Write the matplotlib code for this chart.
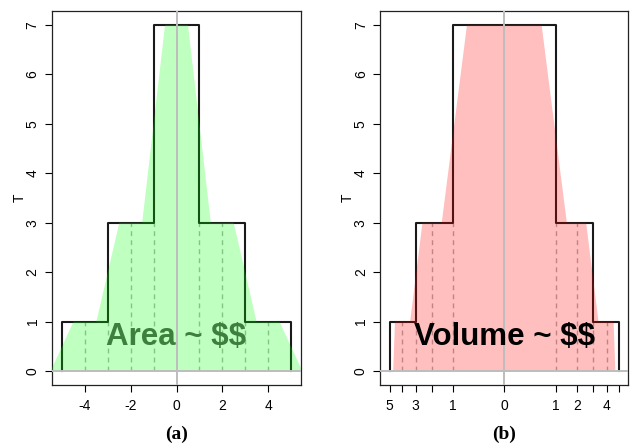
import numpy as np
import matplotlib
matplotlib.use("Agg")
import matplotlib.pyplot as plt

# ------------------------------------------------------------------ #
# data
# ------------------------------------------------------------------ #
band_T = [0, 1, 3, 7]                 # band boundaries on the T axis
step_halfwidth = [5, 3, 1]            # step outline half-width per band
area_bottom = [5.5, 3.5, 1.5]         # green trapezoid half-width at band bottom
area_top = [4.5, 2.5, 0.5]            # green trapezoid half-width at band top
vol_bottom = [4.7, 3.38, 1.49]        # pink trapezoid half-width at band bottom (x units)
vol_top = [4.55, 2.55, 0.53]          # pink trapezoid half-width at band top (x units)
dash_x = [-4, -3, -2, -1, 1, 2, 3, 4]  # dashed column borders
dash_h = [1, 1, 3, 3, 3, 3, 1, 1]

xticks_a = [-4, -2, 0, 2, 4]
xticks_b = [-5, -4, -3, -2, -1, 0, 1, 2, 3, 4, 5]
xlabels_b = ["5", "", "3", "", "1", "0", "1", "2", "", "4", ""]
yticks = [0, 1, 2, 3, 4, 5, 6, 7]

plt.rcParams["font.family"] = ["Liberation Sans", "DejaVu Sans"]
plt.rcParams["text.parse_math"] = False

W, H = 633, 443
fig = plt.figure(figsize=(W / 100, H / 100), dpi=100)


def sq(v):
    v = np.asarray(v, dtype=float)
    return np.sign(v) * np.sqrt(np.abs(v))


def step_outline():
    xs, ys = [], []
    for i, hw in enumerate(step_halfwidth):
        xs += [-hw, -hw]
        ys += [band_T[i], band_T[i + 1]]
    right_x, right_y = [], []
    for i, hw in enumerate(step_halfwidth):
        right_x += [hw, hw]
        right_y += [band_T[i], band_T[i + 1]]
    xs += right_x[::-1]
    ys += right_y[::-1]
    return np.array(xs, float), np.array(ys, float)


def shape_outline(bottom, top):
    xs, ys = [], []
    for i in range(len(bottom)):
        xs += [bottom[i], top[i]]
        ys += [band_T[i], band_T[i + 1]]
    xs = np.array(xs, float)
    ys = np.array(ys, float)
    return np.concatenate([-xs, xs[::-1]]), np.concatenate([ys, ys[::-1]])


def setup(ax, xlim):
    ax.set_xlim(*xlim)
    ax.set_ylim(-0.28, 7.28)
    ax.set_yticks(yticks)
    for lab in ax.get_yticklabels():
        lab.set_rotation(90)
        lab.set_va("center")
    ax.tick_params(axis="y", length=5, width=0.8, pad=4, labelsize=10)
    ax.tick_params(axis="x", length=5, width=0.8, pad=5, labelsize=10)
    ax.set_ylabel("T", fontsize=10, labelpad=-1)
    for s in ax.spines.values():
        s.set_linewidth(0.9)
        s.set_color("#222222")


def draw(ax, tf, bottom, top, fill_col, text, text_col):
    for x, h in zip(dash_x, dash_h):
        ax.plot([tf(x)] * 2, [0, h], color="#b0b0b0", lw=1.0,
                dashes=(3.5, 3), zorder=1)
    sx, sy = step_outline()
    ax.plot(tf(sx), sy, color="#1a1a1a", lw=1.5, zorder=2)
    px, py = shape_outline(bottom, top)
    ax.fill(tf(px), py, color=fill_col, alpha=0.25, lw=0, zorder=3)
    ax.axvline(0, color="#bdbdbd", lw=1.4, zorder=4)
    ax.axhline(0, color="#bdbdbd", lw=1.4, zorder=4)
    ax.text(0, 0.52, text, ha="center", va="baseline", fontsize=22.5,
            fontweight="bold", color=text_col, zorder=5)


# (a) area
ax1 = fig.add_axes([52 / W, 58 / H, 249 / W, 374 / H])
draw(ax1, lambda v: np.asarray(v, float), area_bottom, area_top,
     (0, 1, 0), "Area ~ $$", "#3d7f3d")
setup(ax1, (-5.44, 5.44))
ax1.set_xticks(xticks_a)
ax1.set_xticklabels([str(t) for t in xticks_a])

# (b) volume, sqrt-scaled x
ax2 = fig.add_axes([380.3 / W, 58 / H, 248 / W, 374 / H])
draw(ax2, sq, vol_bottom, vol_top, (1, 0, 0), "Volume ~ $$", "black")
setup(ax2, (-2.42, 2.42))
ax2.set_xticks(sq(xticks_b))
ax2.set_xticklabels(xlabels_b)

fig.text(176.5 / W, 1 - 434 / H, "(a)", ha="center", va="center",
         fontsize=14, fontweight="bold", family=["Liberation Serif"])
fig.text(504 / W, 1 - 434 / H, "(b)", ha="center", va="center",
         fontsize=14, fontweight="bold", family=["Liberation Serif"])

fig.savefig("out.png", dpi=100)
